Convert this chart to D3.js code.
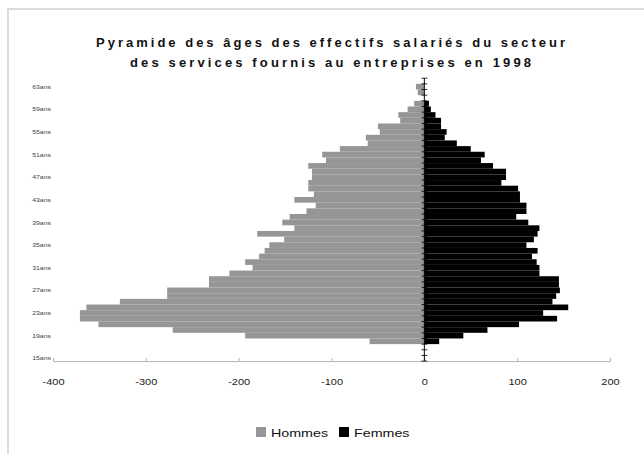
<!DOCTYPE html>
<html>
<head>
<meta charset="utf-8">
<script src="https://cdn.jsdelivr.net/npm/d3@7"></script>
<style>
  body { margin: 0; background: #fff; }
  svg { display: block; font-family: "Liberation Sans", Arial, sans-serif; }
</style>
</head>
<body>
<svg id="chart" width="644" height="454"></svg>
<script>
// Ages from oldest (top) to youngest (bottom)
const ages = d3.range(64, 14, -1);
// Hommes drawn to the left (negative), Femmes to the right
const hommes = [
  0, -9, -7, 0, -11, -18, -28, -26, -50, -48,
  -63, -61, -91, -110, -106, -125, -121, -121, -125, -125,
  -119, -140, -117, -127, -145, -153, -140, -180, -151, -167,
  -172, -178, -193, -185, -210, -232, -232, -277, -277, -328,
  -364, -371, -371, -351, -271, -193, -59, 0, 0, 0
];
const femmes = [
  0, 0, 0, 0, 5, 7, 12, 18, 18, 24,
  22, 35, 50, 65, 61, 74, 88, 88, 83, 101,
  103, 103, 110, 110, 99, 112, 124, 122, 118, 110,
  122, 116, 121, 124, 124, 145, 145, 146, 142, 138,
  155, 128, 143, 102, 68, 42, 16, 0, 0, 0
];
const xTicks = [-400, -300, -200, -100, 0, 100, 200];
const ageLabels = ages.filter(a => (a - 15) % 4 === 0);
const titleLines = [
  "Pyramide des âges des effectifs salariés du secteur",
  "des services fournis au entreprises en 1998"
];
const seriesNames = ["Hommes", "Femmes"];
const seriesColors = ["#969696", "#000000"];

const svg = d3.select("#chart");

// widen glyphs horizontally to the chart's text proportions
function stretch(sel, k) {
  sel.each(function () {
    const w = this.getComputedTextLength();
    d3.select(this).attr("textLength", w * k).attr("lengthAdjust", "spacingAndGlyphs");
  });
}

// chart area frame
svg.append("rect")
  .attr("x", 8).attr("y", 9).attr("width", 700).attr("height", 500)
  .attr("fill", "none").attr("stroke", "#dcdcdc").attr("stroke-width", 2);

// title
svg.append("g").selectAll("text").data(titleLines).join("text")
  .attr("x", 330.5).attr("y", (d, i) => 47 + i * 20)
  .attr("text-anchor", "middle")
  .attr("font-size", 13).attr("font-weight", "bold").attr("fill", "#111")
  .attr("textLength", (d, i) => i === 0 ? 469 : 401)
  .attr("lengthAdjust", "spacing")
  .text(d => d);

const x = d3.scaleLinear().domain([-400, 200]).range([53, 610]);
const y = d3.scaleBand().domain(ages).range([78.2, 361.1]).padding(0);
const bw = y.bandwidth();

// bars
const rows = ages.map((a, i) => ({ age: a, h: hommes[i], f: femmes[i] }));
svg.append("g").selectAll("rect").data(rows.filter(d => d.h !== 0)).join("rect")
  .attr("x", d => x(d.h)).attr("width", d => x(0) - x(d.h))
  .attr("y", d => y(d.age)).attr("height", bw)
  .attr("fill", seriesColors[0]);
svg.append("g").selectAll("rect").data(rows.filter(d => d.f !== 0)).join("rect")
  .attr("x", x(0)).attr("width", d => x(d.f) - x(0))
  .attr("y", d => y(d.age)).attr("height", bw)
  .attr("fill", seriesColors[1]);

// value axis along the bottom (plain hyphen for negatives)
const xAxis = svg.append("g")
  .attr("transform", `translate(0,${y.range()[1]})`)
  .call(d3.axisBottom(x).tickValues(xTicks).tickFormat(d => String(d))
    .tickSizeInner(-3).tickSizeOuter(0).tickPadding(18));
xAxis.select(".domain").attr("stroke", "#b4b4b4");
xAxis.selectAll(".tick line").attr("stroke", "#b4b4b4");
xAxis.selectAll(".tick text")
  .attr("font-size", 9).attr("font-family", "Liberation Sans, Arial, sans-serif").attr("fill", "#222");
stretch(xAxis.selectAll(".tick text"), 1.22);

// category axis at zero with a tick at every band edge
const cat = svg.append("g");
cat.append("line")
  .attr("x1", x(0)).attr("x2", x(0))
  .attr("y1", y.range()[0]).attr("y2", y.range()[1])
  .attr("stroke", "#000").attr("stroke-width", 1);
const edges = ages.map(a => y(a)).concat([y.range()[1]]);
cat.selectAll("line.tk").data(edges).join("line").attr("class", "tk")
  .attr("x1", x(0) - 3).attr("x2", x(0) + 3)
  .attr("y1", d => d).attr("y2", d => d)
  .attr("stroke", "#000").attr("stroke-width", 0.8);

// age labels on the far left
const lab = svg.append("g").selectAll("text").data(ageLabels).join("text")
  .attr("x", 51).attr("y", a => y(a) + bw / 2).attr("dy", "0.35em")
  .attr("text-anchor", "end")
  .attr("font-size", 6).attr("fill", "#444")
  .text(a => a + "ans");
stretch(lab, 1.15);

// legend
const lg = svg.append("g");
const legendX = [256, 339];
seriesNames.forEach((name, i) => {
  lg.append("rect")
    .attr("x", legendX[i]).attr("y", 427).attr("width", 10).attr("height", 10)
    .attr("fill", seriesColors[i]);
  const t = lg.append("text")
    .attr("x", legendX[i] + 15).attr("y", 436.5)
    .attr("font-size", 11.5).attr("fill", "#111")
    .text(name);
  stretch(t, 1.24);
});
</script>
</body>
</html>
